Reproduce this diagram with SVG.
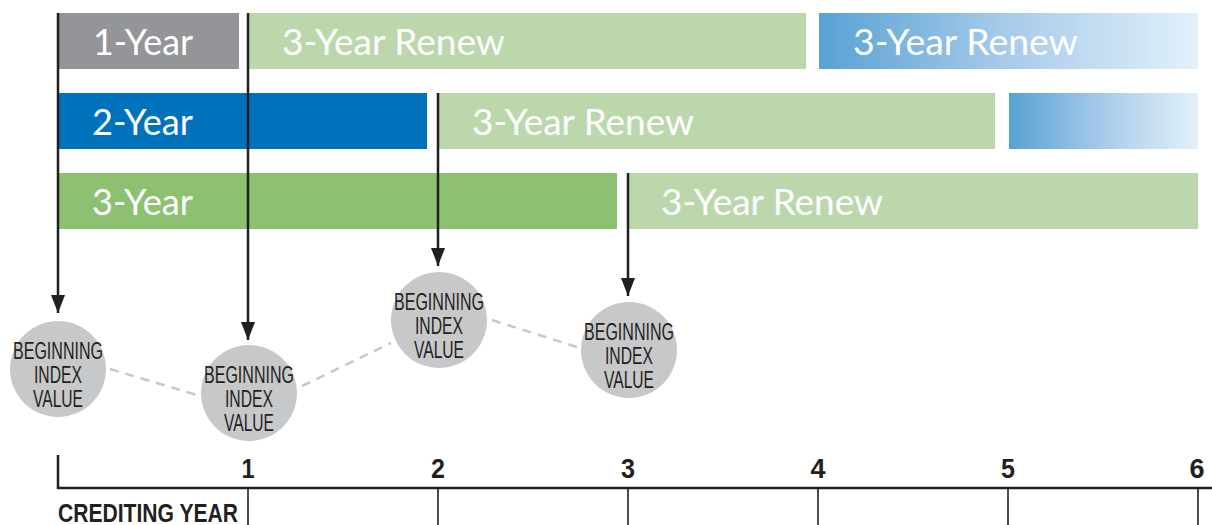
<svg xmlns="http://www.w3.org/2000/svg" width="1212" height="525" viewBox="0 0 1212 525">
<style>
.bt{font-family:Lato,"Open Sans","Liberation Sans",sans-serif;font-size:36px;fill:#ffffff;}
.ct{font-family:"Liberation Sans",Arial,sans-serif;font-size:23px;fill:#231f20;text-anchor:middle;}
.num{font-family:"Liberation Sans",Arial,sans-serif;font-size:28px;font-weight:bold;fill:#231f20;text-anchor:middle;}
.ax{font-family:"Liberation Sans",Arial,sans-serif;font-size:25px;font-weight:bold;fill:#231f20;}
.arr{stroke:#231f20;stroke-width:2.5;fill:none;}
.dash{stroke:#c8c8c8;stroke-width:2.5;stroke-dasharray:9 7;fill:none;}
.circ{fill:#c7c8ca;}
.tick{stroke:#231f20;stroke-width:1.6;}
</style>
<defs>
<linearGradient id="g1" x1="0" y1="0" x2="1" y2="0">
<stop offset="0" stop-color="#58a2d4"/>
<stop offset="0.5" stop-color="#a8cbea"/>
<stop offset="1" stop-color="#e2f1fa"/>
</linearGradient>
<marker id="ah" viewBox="0 0 18 14" refX="18" refY="7" markerWidth="18" markerHeight="14" markerUnits="userSpaceOnUse" orient="auto">
<path d="M0,0 L18,7 L0,14 Z" fill="#231f20"/>
</marker>
</defs>
<g id="row1">
<g id="bar-1year"><rect x="58" y="13" width="181" height="56" fill="#939598"/><text class="bt" x="93" y="55" textLength="100" lengthAdjust="spacingAndGlyphs">1-Year</text></g>
<g id="bar-1year-renew"><rect x="249" y="13" width="557" height="56" fill="#bdd7ac"/><text class="bt" x="282" y="55" textLength="223" lengthAdjust="spacingAndGlyphs">3-Year Renew</text></g>
<g id="bar-1year-renew2"><rect x="819" y="13" width="379" height="56" fill="url(#g1)"/><text class="bt" x="853" y="55" textLength="225" lengthAdjust="spacingAndGlyphs">3-Year Renew</text></g>
</g>
<g id="row2">
<g id="bar-2year"><rect x="58" y="93" width="369" height="56" fill="#0072bc"/><text class="bt" x="92" y="135" textLength="101" lengthAdjust="spacingAndGlyphs">2-Year</text></g>
<g id="bar-2year-renew"><rect x="439" y="93" width="556" height="56" fill="#bdd7ac"/><text class="bt" x="472" y="135" textLength="222" lengthAdjust="spacingAndGlyphs">3-Year Renew</text></g>
<g id="bar-2year-renew2"><rect x="1009" y="93" width="189" height="56" fill="url(#g1)"/></g>
</g>
<g id="row3">
<g id="bar-3year"><rect x="58" y="173" width="559" height="56" fill="#8bc170"/><text class="bt" x="92" y="215" textLength="101" lengthAdjust="spacingAndGlyphs">3-Year</text></g>
<g id="bar-3year-renew"><rect x="629" y="173" width="569" height="56" fill="#bdd7ac"/><text class="bt" x="661" y="215" textLength="222" lengthAdjust="spacingAndGlyphs">3-Year Renew</text></g>
</g>
<g id="connectors">
<line class="arr" x1="58" y1="13" x2="58" y2="313" marker-end="url(#ah)"/>
<line class="arr" x1="248" y1="13" x2="248" y2="340" marker-end="url(#ah)"/>
<line class="arr" x1="438" y1="93" x2="438" y2="266" marker-end="url(#ah)"/>
<line class="arr" x1="628" y1="173" x2="628" y2="296" marker-end="url(#ah)"/>
<line class="dash" x1="110" y1="369" x2="197" y2="395"/>
<line class="dash" x1="302" y1="386" x2="391" y2="343"/>
<line class="dash" x1="492" y1="320" x2="580" y2="348"/>
</g>
<g id="biv1"><circle class="circ" cx="58" cy="369" r="48"/><text class="ct"><tspan x="58" y="359" textLength="90" lengthAdjust="spacingAndGlyphs">BEGINNING</tspan><tspan x="58" y="383" textLength="48" lengthAdjust="spacingAndGlyphs">INDEX</tspan><tspan x="58" y="407" textLength="50" lengthAdjust="spacingAndGlyphs">VALUE</tspan></text></g>
<g id="biv2"><circle class="circ" cx="249" cy="393" r="48"/><text class="ct"><tspan x="249" y="383" textLength="90" lengthAdjust="spacingAndGlyphs">BEGINNING</tspan><tspan x="249" y="407" textLength="48" lengthAdjust="spacingAndGlyphs">INDEX</tspan><tspan x="249" y="431" textLength="50" lengthAdjust="spacingAndGlyphs">VALUE</tspan></text></g>
<g id="biv3"><circle class="circ" cx="439" cy="320" r="48"/><text class="ct"><tspan x="439" y="310" textLength="90" lengthAdjust="spacingAndGlyphs">BEGINNING</tspan><tspan x="439" y="334" textLength="48" lengthAdjust="spacingAndGlyphs">INDEX</tspan><tspan x="439" y="358" textLength="50" lengthAdjust="spacingAndGlyphs">VALUE</tspan></text></g>
<g id="biv4"><circle class="circ" cx="629" cy="350" r="48"/><text class="ct"><tspan x="629" y="340" textLength="90" lengthAdjust="spacingAndGlyphs">BEGINNING</tspan><tspan x="629" y="364" textLength="48" lengthAdjust="spacingAndGlyphs">INDEX</tspan><tspan x="629" y="388" textLength="50" lengthAdjust="spacingAndGlyphs">VALUE</tspan></text></g>
<g id="axis">
<line x1="58" y1="455" x2="58" y2="489" stroke="#231f20" stroke-width="2.5"/>
<line x1="57" y1="488" x2="1212" y2="488" stroke="#231f20" stroke-width="2.5"/>
<line class="tick" x1="248" y1="488" x2="248" y2="525"/>
<line class="tick" x1="438" y1="488" x2="438" y2="525"/>
<line class="tick" x1="628" y1="488" x2="628" y2="525"/>
<line class="tick" x1="818" y1="488" x2="818" y2="525"/>
<line class="tick" x1="1008" y1="488" x2="1008" y2="525"/>
<line class="tick" x1="1198" y1="488" x2="1198" y2="525"/>
<text class="num" x="248" y="478" textLength="13" lengthAdjust="spacingAndGlyphs">1</text>
<text class="num" x="438" y="478" textLength="14" lengthAdjust="spacingAndGlyphs">2</text>
<text class="num" x="628" y="478" textLength="14" lengthAdjust="spacingAndGlyphs">3</text>
<text class="num" x="818" y="478" textLength="15" lengthAdjust="spacingAndGlyphs">4</text>
<text class="num" x="1008" y="478" textLength="14" lengthAdjust="spacingAndGlyphs">5</text>
<text class="num" x="1197" y="478" textLength="15" lengthAdjust="spacingAndGlyphs">6</text>
<text class="ax" x="58" y="522" textLength="180" lengthAdjust="spacingAndGlyphs">CREDITING YEAR</text>
</g>
</svg>
